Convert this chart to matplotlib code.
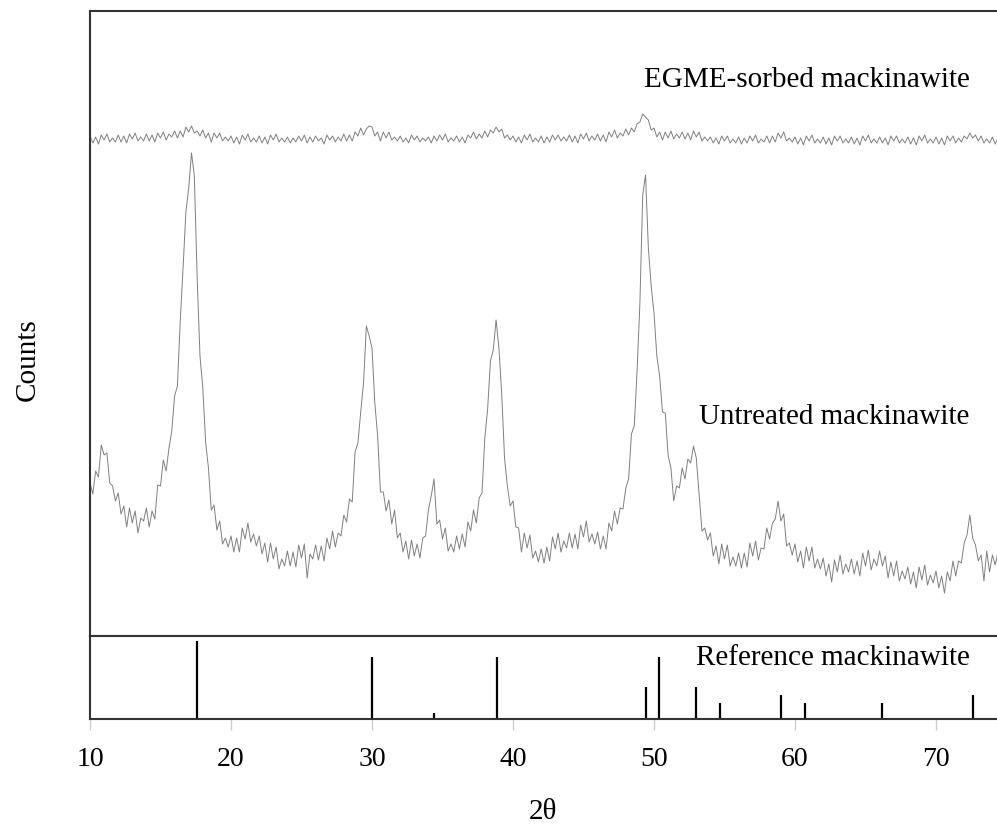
import numpy as np
import matplotlib
matplotlib.use('Agg')
import matplotlib.pyplot as plt

plt.rcParams['font.family'] = ['Liberation Serif', 'DejaVu Serif']

# Untreated mackinawite intensities (arbitrary counts), 2-theta from 10 in 0.2 deg steps
untreated = [
    153, 142, 165, 159, 191,   # 10
    181, 183, 153, 150, 135,   # 11
    143, 122, 130, 109, 128,   # 12
    113, 125, 103, 118, 115,   # 13
    128, 109, 125, 117, 151,   # 14
    150, 176, 165, 188, 205,   # 15
    240, 250, 315, 368, 424,   # 16
    448, 483, 460, 358, 280,   # 17
    248, 194, 168, 126, 131,   # 18
    106, 115, 92, 98, 89,      # 19
    100, 84, 98, 84, 108,      # 20
    97, 113, 94, 102, 90,      # 21
    100, 82, 93, 74, 93,       # 22
    77, 89, 67, 77, 70,        # 23
    85, 70, 84, 69, 91,        # 24
    78, 92, 58, 82, 77,        # 25
    91, 76, 90, 75, 98,        # 26
    87, 105, 89, 103, 100,     # 27
    121, 114, 137, 134, 184,   # 28
    193, 224, 253, 310, 300,   # 29
    288, 233, 200, 144, 144,   # 30
    125, 136, 112, 126, 98,    # 31
    103, 84, 95, 77, 96,       # 32
    80, 92, 78, 98, 100,       # 33
    126, 140, 157, 112, 116,   # 34
    97, 108, 85, 92, 84,       # 35
    100, 87, 102, 89, 114,     # 36
    105, 126, 113, 138, 143,   # 37
    198, 227, 275, 286, 316,   # 38
    288, 242, 178, 150, 130,   # 39
    135, 109, 108, 84, 103,    # 40
    88, 101, 78, 85, 74,       # 41
    87, 73, 89, 75, 99,        # 42
    87, 103, 84, 95, 88,       # 43
    103, 88, 102, 87, 111,     # 44
    99, 115, 94, 102, 92,      # 45
    104, 87, 100, 87, 113,     # 46
    105, 125, 112, 128, 127,   # 47
    148, 157, 202, 210, 265,   # 48
    333, 441, 461, 388, 350,   # 49
    323, 280, 260, 224, 223,   # 50
    181, 168, 135, 150, 148,   # 51
    168, 157, 177, 173, 190,   # 52
    178, 142, 105, 108, 96,    # 53
    103, 80, 90, 72, 92,       # 54
    77, 91, 70, 79, 70,        # 55
    83, 68, 83, 69, 93,        # 56
    80, 95, 76, 88, 87,        # 57
    108, 97, 113, 117, 135,    # 58
    115, 122, 90, 93, 81,      # 59
    92, 74, 85, 68, 89,        # 60
    75, 89, 68, 77, 67,        # 61
    78, 60, 72, 54, 76,        # 62
    64, 81, 62, 72, 64,        # 63
    77, 62, 75, 60, 83,        # 64
    70, 86, 66, 77, 70,        # 65
    85, 70, 80, 58, 74,        # 66
    60, 75, 55, 65, 57,        # 67
    69, 52, 64, 48, 69,        # 68
    56, 71, 51, 61, 53,        # 69
    65, 48, 60, 43, 64,        # 70
    55, 75, 60, 75, 73,        # 71
    93, 101, 121, 98, 91,      # 72
    75, 81, 55, 85, 64,        # 73
    81, 71, 84,                # 74
]

# EGME-sorbed mackinawite intensities (arbitrary counts), same 2-theta grid
egme = [
    100, 93, 99, 92, 101,      # 10
    96, 102, 94, 98, 94,       # 11
    101, 94, 100, 93, 102,     # 12
    97, 103, 95, 99, 95,       # 13
    102, 95, 101, 94, 103,     # 14
    98, 104, 96, 102, 99,      # 15
    105, 98, 105, 99, 109,     # 16
    104, 110, 103, 105, 100,   # 17
    106, 98, 103, 94, 103,     # 18
    98, 103, 95, 99, 95,       # 19
    100, 93, 99, 92, 101,      # 20
    96, 102, 94, 98, 94,       # 21
    100, 93, 99, 92, 101,      # 22
    96, 102, 94, 98, 94,       # 23
    99, 93, 98, 94, 100,       # 24
    95, 101, 93, 99, 94,       # 25
    100, 95, 98, 92, 101,      # 26
    96, 100, 94, 99, 95,       # 27
    102, 95, 101, 95, 104,     # 28
    100, 108, 101, 107, 110,   # 29
    109, 100, 104, 95, 104,    # 30
    98, 104, 96, 99, 95,       # 31
    100, 94, 98, 93, 101,      # 32
    96, 100, 94, 98, 95,       # 33
    99, 93, 100, 95, 101,      # 34
    96, 102, 94, 98, 95,       # 35
    100, 94, 99, 93, 101,      # 36
    98, 104, 97, 102, 98,      # 37
    105, 99, 106, 103, 109,    # 38
    104, 107, 98, 101, 96,     # 39
    100, 94, 99, 93, 101,      # 40
    96, 102, 94, 98, 94,       # 41
    100, 93, 99, 94, 101,      # 42
    96, 101, 95, 99, 95,       # 43
    101, 94, 100, 93, 102,     # 44
    97, 103, 95, 100, 96,      # 45
    102, 95, 101, 94, 104,     # 46
    99, 106, 98, 103, 100,     # 47
    107, 101, 108, 104, 112,   # 48
    114, 122, 119, 116, 106,   # 49
    108, 99, 104, 96, 104,     # 50
    98, 105, 97, 102, 98,      # 51
    104, 97, 103, 96, 105,     # 52
    99, 104, 95, 99, 95,       # 53
    99, 93, 98, 92, 100,       # 54
    95, 100, 93, 97, 93,       # 55
    99, 92, 98, 93, 100,       # 56
    95, 101, 93, 97, 94,       # 57
    100, 93, 100, 94, 103,     # 58
    98, 104, 95, 98, 94,       # 59
    99, 92, 98, 91, 100,       # 60
    95, 101, 93, 97, 93,       # 61
    99, 92, 98, 91, 100,       # 62
    95, 100, 93, 97, 93,       # 63
    99, 92, 98, 91, 100,       # 64
    95, 101, 93, 97, 93,       # 65
    99, 93, 98, 91, 100,       # 66
    95, 100, 93, 97, 93,       # 67
    99, 92, 98, 91, 100,       # 68
    95, 101, 93, 97, 93,       # 69
    99, 92, 98, 91, 100,       # 70
    95, 100, 93, 98, 94,       # 71
    100, 97, 103, 98, 101,     # 72
    95, 100, 93, 97, 93,       # 73
    99, 92, 98,                # 74
]
egme_offset = 400

# Reference mackinawite stick pattern
ref_pos = [17.6, 30.0, 34.4, 38.9, 49.45, 50.35, 53.0, 54.7, 59.0, 60.7, 66.2, 72.6]
ref_int = [100, 80, 8, 80, 41, 80, 41, 20, 31, 20, 20, 31]

xticks = [10, 20, 30, 40, 50, 60, 70]
labels = ['EGME-sorbed mackinawite', 'Untreated mackinawite', 'Reference mackinawite']

tt_u = 10 + 0.2 * np.arange(len(untreated))
tt_e = 10 + 0.2 * np.arange(len(egme))

W, H = 997, 831
fig = plt.figure(figsize=(W / 100, H / 100), dpi=100)
ax = fig.add_axes([90 / W, 1 - 636 / H, 907 / W, 625 / H])
axr = fig.add_axes([90 / W, 1 - 719 / H, 907 / W, 83 / H], sharex=ax)

xmax = 10 + 907 / 14.1
spine_c = '#333333'

ax.plot(tt_u, untreated, color='#808080', lw=0.7)
ax.plot(tt_e, np.array(egme) + egme_offset, color='#808080', lw=0.7)
ax.set_xlim(10, xmax)
ax.set_ylim(0, 625)
ax.set_yticks([])
ax.tick_params(axis='x', bottom=False, labelbottom=False)
ax.spines['right'].set_visible(False)
for s in ['left', 'top', 'bottom']:
    ax.spines[s].set_color(spine_c)
    ax.spines[s].set_linewidth(1.5)

axr.vlines(ref_pos, 0, ref_int, color='black', lw=1.6)
axr.set_ylim(0, 100 * 83 / 78)
axr.set_yticks([])
axr.set_xticks(xticks)
axr.set_xticklabels([str(t) for t in xticks])
axr.tick_params(axis='x', direction='out', length=8, width=1, color='#cccccc',
                labelsize=20, pad=12)
axr.spines['right'].set_visible(False)
for s in ['left', 'top', 'bottom']:
    axr.spines[s].set_color(spine_c)
    axr.spines[s].set_linewidth(1.5)

ax.text(72.4, 556, labels[0], ha='right', va='center', fontsize=21)
ax.text(72.4, 219, labels[1], ha='right', va='center', fontsize=21)
axr.text(72.4, 78, labels[2], ha='right', va='center', fontsize=21)

fig.text(543 / W, 1 - 812 / H, '2θ', ha='center', va='center', fontsize=21)
fig.text(28 / W, 1 - 360 / H, 'Counts', ha='center', va='center', fontsize=21, rotation=90)

fig.savefig('out.png', dpi=100)
